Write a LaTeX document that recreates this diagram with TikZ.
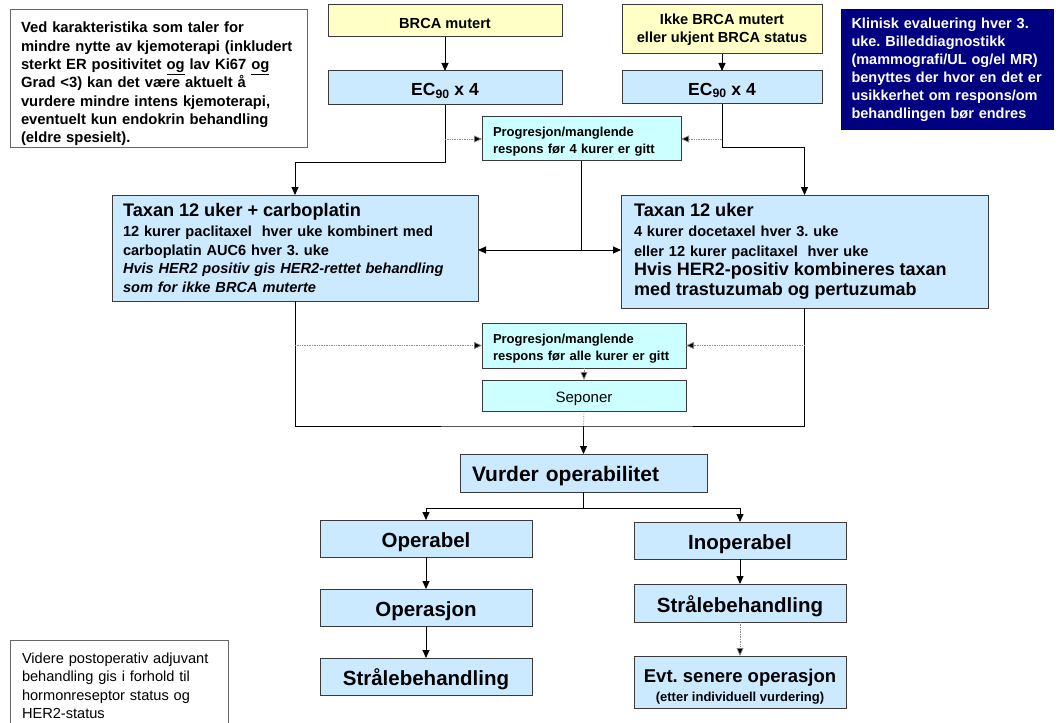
\documentclass[tikz,border=0pt]{standalone}
\usepackage{fontspec}
\setmainfont{Liberation Sans}
\usetikzlibrary{arrows.meta}
\frenchspacing
\definecolor{lblue}{HTML}{CCEAFF}
\definecolor{lcyan}{HTML}{CCFFFF}
\definecolor{lyel}{HTML}{FFFFC6}
\definecolor{navy}{HTML}{000080}
\definecolor{bord}{HTML}{3A3A3A}
\definecolor{dotc}{HTML}{8A8A8A}
\newcommand{\fs}[2]{\fontsize{#1}{#2}\selectfont}
\tikzset{
  box/.style={draw=bord, line width=1pt, anchor=north west, inner sep=0pt, outer sep=0pt},
  bluebox/.style={box, fill=lblue},
  cyanbox/.style={box, fill=lcyan},
  yelbox/.style={box, fill=lyel},
  notebox/.style={box, draw=gray!80!black, fill=white},
  bigbox/.style={bluebox, minimum width=212, font=\fs{20.5}{22}\bfseries, text height=22pt, text depth=4pt},
  arr/.style={draw=black, line width=1pt, -{Triangle[width=7pt,length=8pt]}},
  ln/.style={draw=black, line width=1pt},
  dotarr/.style={draw=dotc, line width=0.7pt, densely dotted, -{Triangle[width=7pt,length=8pt,fill=black]}},
  dotln/.style={draw=dotc, line width=0.7pt, densely dotted},
}
\begin{document}
\begin{tikzpicture}[x=1pt,y=-1pt]
\useasboundingbox (0,0) rectangle (1064,722);
\fill[white] (0,0) rectangle (1064,722);

% notes
\node[notebox, minimum width=297, minimum height=138, text width=275, align=left, text height=20.5pt, font=\fs{14.8}{18.3}\bfseries] (note1) at (10,10)
 {Ved karakteristika som taler for\\ mindre nytte av kjemoterapi (inkludert\\ sterkt ER positivitet \underline{og} lav Ki67 \underline{og}\\ Grad <3) kan det være aktuelt å\\ vurdere mindre intens kjemoterapi,\\ eventuelt kun endokrin behandling\\ (eldre spesielt).};
\node[box, fill=navy, draw=navy!70!black, minimum width=212, minimum height=120, text width=191, align=left, text=white, font=\fs{14.5}{18}\bfseries] (navy) at (841,10)
 {Klinisk evaluering hver 3.\\ uke. Billeddiagnostikk\\ (mammografi/UL og/el MR)\\ benyttes der hvor en det er\\ usikkerhet om respons/om\\ behandlingen bør endres};
\node[notebox, minimum width=218, minimum height=92, text width=194, align=left, font=\fs{14.6}{18.5}] (note2) at (10,640)
 {Videre postoperativ adjuvant\\ behandling gis i forhold til\\ hormonreseptor status og\\ HER2-status};

% top
\node[yelbox, minimum width=234, minimum height=32, text height=14.5pt, font=\fs{14.6}{16}\bfseries] (brca) at (328,5) {BRCA mutert};
\node[yelbox, minimum width=200, minimum height=49, align=center, font=\fs{14.6}{17.5}\bfseries] (ikke) at (622,5) {Ikke BRCA mutert\\ eller ukjent BRCA status};
\node[bluebox, minimum width=234, minimum height=34, text height=18pt, font=\fs{17.5}{20}\bfseries] (ecl) at (328,71) {EC\textsubscript{90} x 4};
\node[bluebox, minimum width=200, minimum height=33, text height=18pt, font=\fs{17.5}{20}\bfseries] (ecr) at (622,71) {EC\textsubscript{90} x 4};
\node[cyanbox, minimum width=199, minimum height=44, text width=177, align=left, text height=15pt, font=\fs{13}{17}\bfseries] (prog1) at (482,117) {Progresjon/manglende\\ respons før 4 kurer er gitt};

% taxan
\node[bluebox, minimum width=366, minimum height=106, text width=344, align=left, font=\fs{14.6}{18.5}\bfseries] (taxl) at (112,195)
 {{\fs{18.2}{19}Taxan 12 uker + carboplatin}\\[1.5pt] 12 kurer paclitaxel\ \ hver uke kombinert med\\ carboplatin AUC6 hver 3. uke\\ \textit{Hvis HER2 positiv gis HER2-rettet behandling}\\ \textit{som for ikke BRCA muterte}};
\node[bluebox, minimum width=367, minimum height=113, text width=341, align=left, font=\fs{14.6}{19.7}\bfseries] (taxr) at (621,195)
 {{\fs{18.2}{19}Taxan 12 uker}\\ 4 kurer docetaxel hver 3. uke\\ eller 12 kurer paclitaxel\ \ hver uke\\ {\fs{18}{22}Hvis HER2-positiv kombineres taxan}\\ {\fs{18}{22}med trastuzumab og pertuzumab}};

\node[cyanbox, minimum width=204, minimum height=45, text width=182, align=left, text height=15pt, font=\fs{13}{17}\bfseries] (prog2) at (482,323) {Progresjon/manglende\\ respons før alle kurer er gitt};
\node[cyanbox, minimum width=204, minimum height=31, text height=17pt, font=\fs{15}{16}] (sepon) at (482,380) {Seponer};

% bottom
\node[bluebox, minimum width=247, minimum height=38, text width=223, align=left, text height=21.5pt, font=\fs{21}{23}\bfseries] (vurd) at (460,454) {Vurder operabilitet};
\node[bigbox, minimum height=37] (oper) at (320,520) {Operabel};
\node[bigbox, minimum height=37] (opsj) at (320,589) {Operasjon};
\node[bigbox, minimum height=37] (stral) at (320,658) {Strålebehandling};
\node[bigbox, minimum height=37] (inop) at (634,522) {Inoperabel};
\node[bigbox, minimum height=38] (strar) at (634,584) {Strålebehandling};
\node[bluebox, minimum width=212, minimum height=52, align=center, text height=42pt, font=\fs{18.5}{20}\bfseries] (evt) at (634,656) {Evt. senere operasjon\\[-1pt] {\fs{13}{14}(etter individuell vurdering)}};

% coordinates
\coordinate (c1) at (445,163);
\coordinate (c2) at (722,148);
\coordinate (d1) at (445,139);
\coordinate (d2) at (722,139);
\coordinate (j1) at (581.5,250);
\coordinate (j2) at (583.5,426);
\coordinate (d3) at (295,345.5);
\coordinate (d4) at (804.5,345.5);
\coordinate (j3) at (583.5,508);

% connectors
\draw[arr] (brca.south) -- (ecl.north);
\draw[arr] (ikke.south) -- (ecr.north);
\draw[arr] (ecl.south) -- (c1) -| (taxl.north);
\draw[arr] (ecr.south) -- (c2) -| (taxr.north);
\draw[dotarr] (d1) -- (prog1.west);
\draw[dotarr] (d2) -- (prog1.east);
\draw[ln] (prog1.south) -- (j1);
\draw[arr] (j1) -- (taxl.east |- j1);
\draw[arr] (j1) -- (taxr.west |- j1);
\draw[ln] (taxl.south) |- (j2) -| (taxr.south);
\draw[dotarr] (d3) -- (prog2.west);
\draw[dotarr] (d4) -- (prog2.east);
\draw[dotarr] (prog2.south) -- (sepon.north);
\draw[dotln] (sepon.south) -- (j2);
\draw[arr] (j2) -- (vurd.north);
\draw[ln] (vurd.south) -- (j3);
\draw[arr] (j3) -| (oper.north);
\draw[arr] (j3) -| (inop.north);
\draw[arr] (oper.south) -- (opsj.north);
\draw[arr] (opsj.south) -- (stral.north);
\draw[arr] (inop.south) -- (strar.north);
\draw[dotarr] (strar.south) -- (evt.north);
\end{tikzpicture}
\end{document}
